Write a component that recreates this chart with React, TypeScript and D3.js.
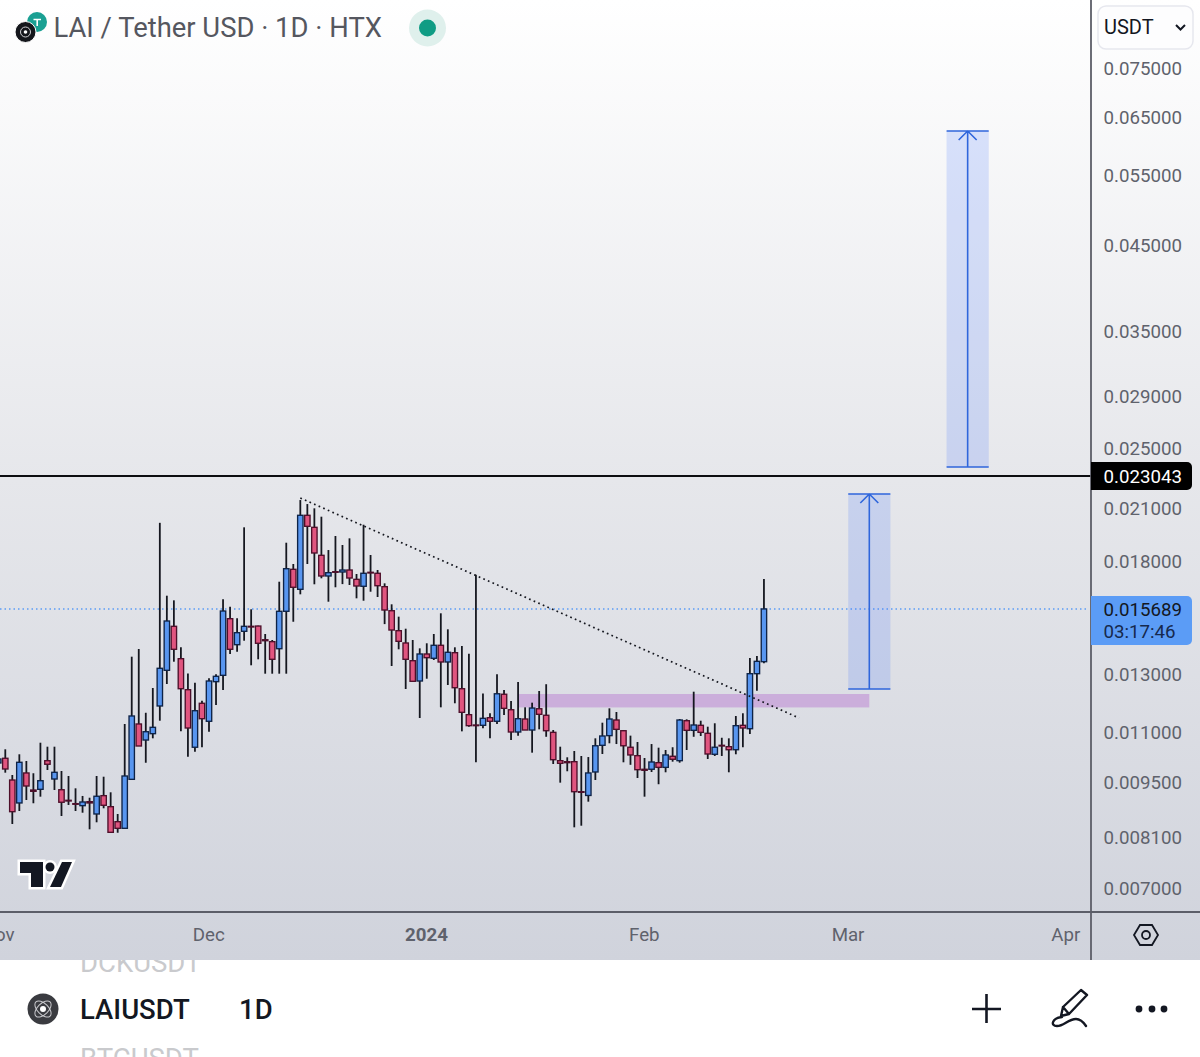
import { useEffect, useRef } from "react";
import * as d3 from "d3";

const WIDTH = 1200;
const HEIGHT = 1057;

// Daily candles from 1 Nov 2023, prices in millionths of a USDT
const firstDay = new Date(Date.UTC(2023, 10, 1));

const highs = [
  10374, 10455, 9706, 10305, 10107, 9755, 10656, 10534, 10534, 9819,
  9678, 9339, 9135, 9089, 9678, 9658, 9232, 8671, 11249, 13666,
  13973, 11620, 12483, 20127, 16302, 16085, 14042, 13022, 12675, 12032,
  12837, 12987, 16132, 15793, 15271, 19867, 15673, 14947, 14594, 14341,
  16975, 19002, 17867, 21497, 21250, 20989, 20487, 18604, 19374, 18876,
  19244, 17359, 20017, 18338, 17559, 16896, 15901, 15343, 14818, 14341,
  14000, 14206, 14594, 15493, 14792, 14042, 14096, 13785, 17324, 12290,
  11603, 12987, 12410, 12021, 12701, 11804, 11964, 12375, 12620, 11054,
  10534, 10216, 10403, 10255, 10223, 10792, 11291, 11770, 11646, 11054,
  10876, 10678, 10195, 10615, 10504, 10433, 10517, 11412, 11402, 12350,
  11356, 11161, 11272, 10810, 10792, 11511, 11603, 13614, 13694, 17108,
];
const opens = [
  10049, 10187, 9566, 8952, 9763, 9293, 9312, 10116, 9594, 9301,
  9021, 8934, 8882, 8985, 8671, 9143, 8856, 8480, 8319, 9585,
  11249, 10739, 10938, 11850, 13138, 14921, 13587, 12421, 10517, 11943,
  11337, 12713, 12949, 15253, 14148, 14707, 14921, 14933, 14353, 14273,
  13985, 15583, 17595, 16606, 20570, 19867, 18322, 17258, 17474, 17459,
  17559, 17092, 16752, 17444, 17394, 16733, 15609, 14733, 14218, 13508,
  12738, 13773, 13603, 14124, 13458, 13825, 12457, 11556, 11216, 11206,
  11456, 11337, 12259, 11722, 10991, 11412, 11054, 11756, 11536, 10980,
  10116, 10087, 10087, 9248, 9148, 9791, 10576, 10876, 11379, 11032,
  10517, 10264, 9868, 9868, 10058, 9923, 10246, 10116, 11356, 11044,
  11206, 10950, 10305, 10576, 10534, 10442, 11206, 11096, 13010, 13469,
];
const closes = [
  10166, 9876, 8729, 10069, 9402, 9259, 9547, 10012, 9782, 8970,
  9003, 8918, 8977, 8952, 9127, 8892, 8223, 8319, 9678, 11512,
  10555, 11000, 11141, 13215, 15152, 13961, 12457, 11119, 11689, 11422,
  12738, 12912, 15596, 13961, 14648, 14921, 14891, 14206, 14312, 13563,
  15583, 17626, 16704, 20570, 19925, 18445, 17258, 17424, 17444, 17559,
  17158, 16766, 17394, 17409, 16780, 15641, 14762, 14287, 13563, 12727,
  13773, 13626, 14124, 13458, 13841, 12493, 11635, 11194, 11194, 11435,
  11337, 12276, 11770, 10991, 11422, 11054, 11780, 11568, 11032, 10145,
  10040, 10058, 9248, 9232, 9763, 10562, 10865, 11412, 11076, 10562,
  10285, 9856, 9839, 10078, 9923, 10285, 10157, 11379, 11044, 11216,
  10980, 10314, 10517, 10555, 10442, 11194, 11119, 13010, 13484, 15689,
];
const lows = [
  9905, 9771, 8424, 8746, 9029, 8944, 9116, 9847, 9293, 8621,
  8900, 8746, 8703, 8295, 8465, 8815, 8223, 8213, 8319, 9566,
  10555, 10056, 10792, 11356, 12628, 13469, 11012, 10234, 10382, 10517,
  11000, 11884, 12410, 13773, 13864, 14312, 13330, 13563, 13010, 13010,
  13010, 13010, 15119, 16367, 17867, 16849, 17143, 16021, 16704, 16858,
  16815, 16179, 16067, 16491, 16240, 15016, 13303, 13961, 12446, 12727,
  11445, 12822, 13535, 11804, 12592, 11943, 11012, 11161, 10069, 11109,
  10792, 11249, 11545, 10739, 10876, 11054, 10353, 11076, 10840, 10020,
  9493, 9811, 8343, 8382, 8985, 9566, 10314, 10638, 10615, 10069,
  9996, 9622, 9116, 9791, 9450, 9782, 10087, 10058, 10433, 10840,
  10865, 10166, 10255, 10255, 9782, 10305, 10517, 10928, 12385, 13405,
];

const priceTicks = [0.075, 0.065, 0.055, 0.045, 0.035, 0.029, 0.025, 0.021, 0.018, 0.013, 0.011, 0.0095, 0.0081, 0.007];
const dateTicks = [
  new Date(Date.UTC(2023, 10, 1)),
  new Date(Date.UTC(2023, 11, 1)),
  new Date(Date.UTC(2024, 0, 1)),
  new Date(Date.UTC(2024, 1, 1)),
  new Date(Date.UTC(2024, 2, 1)),
  new Date(Date.UTC(2024, 3, 1)),
];
const dateLabels = ["Nov", "Dec", "2024", "Feb", "Mar", "Apr"];

const resistancePrice = 0.023043;
const lastPrice = 0.015689;
const countdown = "03:17:46";

// drawings on the chart
const lowerTarget = { from: new Date(Date.UTC(2024, 2, 1)), to: new Date(Date.UTC(2024, 2, 7)), mid: new Date(Date.UTC(2024, 2, 4)), top: 0.021874, bottom: 0.012445 };
const upperTarget = { from: new Date(Date.UTC(2024, 2, 15)), to: new Date(Date.UTC(2024, 2, 21)), mid: new Date(Date.UTC(2024, 2, 18)), top: 0.0625, bottom: 0.02365 };
const zone = { from: new Date(Date.UTC(2024, 0, 14)), to: new Date(Date.UTC(2024, 2, 4)), top: 0.012268, bottom: 0.0118 };
const trend = { from: new Date(Date.UTC(2023, 11, 14)), to: new Date(Date.UTC(2024, 1, 23)), start: 0.021622, end: 0.011446 };

const FONT = "Roboto, sans-serif";
const TEXT = "#131722";
const MUTED = "#5f626c";
const BLUE = "#5896f0";
const RED = "#e0557f";
const PLOT_RIGHT = 1091;
const AXIS_Y = 912;
const PANEL_BOTTOM = 960;
const AXIS_FONT = 18.7;

export default function App() {
  const svgRef = useRef<SVGSVGElement>(null);

  useEffect(() => {
    const svg = d3.select(svgRef.current!);
    svg.selectAll("*").remove();

    const x = d3.scaleUtc()
      .domain([new Date(Date.UTC(2023, 11, 1)), new Date(Date.UTC(2024, 3, 1))])
      .range([209, 1066]);
    const y = d3.scaleLog().domain([0.007, 0.075]).range([888, 68]);

    const defs = svg.append("defs");
    const grad = defs.append("linearGradient")
      .attr("id", "panelBg").attr("x1", 0).attr("x2", 0).attr("y1", 0).attr("y2", 1);
    grad.append("stop").attr("offset", "0%").attr("stop-color", "#ffffff");
    grad.append("stop").attr("offset", "50%").attr("stop-color", "#e6e7eb");
    grad.append("stop").attr("offset", "100%").attr("stop-color", "#d0d3dc");
    defs.append("clipPath").attr("id", "plotClip")
      .append("rect").attr("width", PLOT_RIGHT).attr("height", AXIS_Y);

    // ── Page behind the chart, with the list rows scrolling under it ──
    svg.append("rect").attr("width", WIDTH).attr("height", HEIGHT).attr("fill", "#ffffff");
    [{ t: "DCKUSDT", y: 972 }, { t: "BTCUSDT", y: 1068 }].forEach((r) => {
      svg.append("text").attr("x", 80).attr("y", r.y)
        .attr("font-family", FONT).attr("font-size", 27.5)
        .attr("fill", "#c9cacd").text(r.t);
    });
    svg.append("rect").attr("width", WIDTH).attr("height", PANEL_BOTTOM).attr("fill", "url(#panelBg)");

    const plot = svg.append("g").attr("clip-path", "url(#plotClip)");

    // ── Last price ────────────────────────────────────────────────
    plot.append("line")
      .attr("x1", 0).attr("x2", PLOT_RIGHT - 3).attr("y1", y(lastPrice)).attr("y2", y(lastPrice))
      .attr("stroke", "#5b9cf6").attr("stroke-width", 1.5).attr("stroke-dasharray", "1.5 3");

    // ── Purple zone ───────────────────────────────────────────────
    plot.append("rect")
      .attr("x", x(zone.from)).attr("width", x(zone.to) - x(zone.from))
      .attr("y", y(zone.top)).attr("height", y(zone.bottom) - y(zone.top))
      .attr("fill", "#cbaedb");

    // ── Candles ───────────────────────────────────────────────────
    const candles = highs.map((h, i) => ({
      date: d3.utcDay.offset(firstDay, i),
      high: h / 1e6, open: opens[i] / 1e6, close: closes[i] / 1e6, low: lows[i] / 1e6,
    }));
    const bodyW = 5.4;
    const g = plot.append("g");
    g.selectAll("line.wick").data(candles).join("line")
      .attr("class", "wick")
      .attr("x1", (d) => x(d.date)).attr("x2", (d) => x(d.date))
      .attr("y1", (d) => y(d.high)).attr("y2", (d) => y(d.low))
      .attr("stroke", "#15171f").attr("stroke-width", 1.8);
    g.selectAll("rect.body").data(candles).join("rect")
      .attr("class", "body")
      .attr("x", (d) => x(d.date) - bodyW / 2)
      .attr("width", bodyW)
      .attr("y", (d) => y(Math.max(d.open, d.close)))
      .attr("height", (d) => Math.abs(y(d.open) - y(d.close)))
      .attr("fill", (d) => (d.close >= d.open ? BLUE : RED))
      .attr("stroke", (d) => (d.close >= d.open ? "#0e2347" : "#4d0f2a"))
      .attr("stroke-width", 1.35);

    // ── Trend line ────────────────────────────────────────────────
    plot.append("line")
      .attr("x1", x(trend.from)).attr("x2", x(trend.to))
      .attr("y1", y(trend.start)).attr("y2", y(trend.end))
      .attr("stroke", "#15171f").attr("stroke-width", 1.7).attr("stroke-dasharray", "1.7 3.3");

    // ── Target arrows ─────────────────────────────────────────────
    [lowerTarget, upperTarget].forEach((a) => {
      const x0 = x(a.from), x1 = x(a.to), xm = x(a.mid), yt = y(a.top), yb = y(a.bottom);
      plot.append("rect").attr("x", x0).attr("width", x1 - x0).attr("y", yt).attr("height", yb - yt)
        .attr("fill", "#2962ff").attr("fill-opacity", 0.16);
      const path = d3.path();
      path.moveTo(x0, yt); path.lineTo(x1, yt);
      path.moveTo(x0, yb); path.lineTo(x1, yb);
      path.moveTo(xm, yt); path.lineTo(xm, yb);
      path.moveTo(xm - 9, yt + 9); path.lineTo(xm, yt); path.lineTo(xm + 9, yt + 9);
      plot.append("path").attr("d", path.toString()).attr("fill", "none")
        .attr("stroke", "#2f66dc").attr("stroke-width", 1.6);
    });

    plot.append("line")
      .attr("x1", 0).attr("x2", PLOT_RIGHT).attr("y1", y(resistancePrice)).attr("y2", y(resistancePrice))
      .attr("stroke", "#0c0d10").attr("stroke-width", 2);

    // ── TradingView mark ──────────────────────────────────────────
    const logo = svg.append("g").attr("fill", "#131722")
      .attr("stroke", "#ffffff").attr("stroke-width", 5).attr("paint-order", "stroke").attr("stroke-linejoin", "miter");
    logo.append("path").attr("d", "M20 862H43V887H31V873H20Z");
    logo.append("circle").attr("cx", 50).attr("cy", 867).attr("r", 4.5);
    logo.append("path").attr("d", "M62 862H72L61 887H50Z");

    // ── Axes ──────────────────────────────────────────────────────
    svg.append("line").attr("x1", 0).attr("x2", WIDTH).attr("y1", AXIS_Y).attr("y2", AXIS_Y)
      .attr("stroke", "#5c5e68").attr("stroke-width", 1.8);
    svg.append("line").attr("x1", PLOT_RIGHT).attr("x2", PLOT_RIGHT).attr("y1", 0).attr("y2", PANEL_BOTTOM)
      .attr("stroke", "#5c5e68").attr("stroke-width", 1.8);

    const yAxis = svg.append("g")
      .attr("transform", "translate(1103.5,0.4)")
      .call(d3.axisRight(y).tickValues(priceTicks).tickFormat(d3.format(".6f") as any).tickSize(0).tickPadding(0));
    yAxis.select(".domain").remove();
    yAxis.selectAll("text")
      .attr("font-family", FONT).attr("font-size", AXIS_FONT).attr("fill", MUTED);

    const xAxis = svg.append("g")
      .attr("transform", "translate(-0.7,928)")
      .call(d3.axisBottom(x).tickValues(dateTicks).tickFormat((_, i) => dateLabels[i]).tickSize(0).tickPadding(0));
    xAxis.select(".domain").remove();
    xAxis.selectAll("text")
      .attr("font-family", FONT).attr("font-size", AXIS_FONT).attr("fill", MUTED)
      .attr("font-weight", (_, i) => (i === 2 ? 700 : 400));

    // ── Price labels ──────────────────────────────────────────────
    svg.append("path").attr("d", "M1091 462H1187a5 5 0 0 1 5 5V485a5 5 0 0 1 -5 5H1091Z").attr("fill", "#000000");
    svg.append("text").attr("x", 1103.5).attr("y", y(resistancePrice) + 7.4)
      .attr("font-family", FONT).attr("font-size", AXIS_FONT).attr("fill", "#ffffff")
      .text(d3.format(".6f")(resistancePrice));
    svg.append("path").attr("d", "M1091 596H1187a5 5 0 0 1 5 5V640a5 5 0 0 1 -5 5H1091Z").attr("fill", "#5b9cf6");
    svg.append("text").attr("x", 1103.5).attr("y", y(lastPrice) + 7.4)
      .attr("font-family", FONT).attr("font-size", AXIS_FONT).attr("fill", TEXT)
      .text(d3.format(".6f")(lastPrice));
    svg.append("text").attr("x", 1103.5).attr("y", 638.4)
      .attr("font-family", FONT).attr("font-size", AXIS_FONT).attr("fill", "#16294d")
      .text(countdown);

    // ── Header ────────────────────────────────────────────────────
    svg.append("circle").attr("cx", 37).attr("cy", 22).attr("r", 10).attr("fill", "#1aa093");
    svg.append("path").attr("d", "M33.5 19.5H41M37.2 19.5V26").attr("stroke", "#ffffff").attr("stroke-width", 1.6).attr("fill", "none");
    svg.append("circle").attr("cx", 25.5).attr("cy", 32).attr("r", 10.5).attr("fill", "#15171c")
      .attr("stroke", "#ffffff").attr("stroke-width", 1);
    svg.append("circle").attr("cx", 25.5).attr("cy", 32).attr("r", 5).attr("fill", "none")
      .attr("stroke", "#d0d0d4").attr("stroke-width", 1);
    svg.append("circle").attr("cx", 25.5).attr("cy", 32).attr("r", 1.8).attr("fill", "#ffffff");
    svg.append("text").attr("x", 53.5).attr("y", 37)
      .attr("font-family", FONT).attr("font-size", 27.4).attr("fill", "#55575f")
      .text("LAI / Tether USD · 1D · HTX");
    svg.append("circle").attr("cx", 427.5).attr("cy", 28).attr("r", 18.5).attr("fill", "#dff0ec");
    svg.append("circle").attr("cx", 427.5).attr("cy", 28).attr("r", 8.5).attr("fill", "#0f9c84");

    // ── Currency selector ─────────────────────────────────────────
    svg.append("rect").attr("x", 1098).attr("y", 6).attr("width", 95).attr("height", 43).attr("rx", 8)
      .attr("fill", "#fdfdfe").attr("stroke", "#e6e7ee").attr("stroke-width", 1.5);
    svg.append("text").attr("x", 1104).attr("y", 34)
      .attr("font-family", FONT).attr("font-size", 20).attr("fill", TEXT).text("USDT");
    svg.append("path").attr("d", "M1176 25L1180.5 29.5L1185 25").attr("fill", "none")
      .attr("stroke", TEXT).attr("stroke-width", 2);

    // settings hexagon on the axis corner
    svg.append("path").attr("d", "M1134 935L1140 925H1152L1158 935L1152 945H1140Z").attr("fill", "none")
      .attr("stroke", TEXT).attr("stroke-width", 1.8);
    svg.append("circle").attr("cx", 1146).attr("cy", 935).attr("r", 4).attr("fill", "none")
      .attr("stroke", TEXT).attr("stroke-width", 1.8);

    // ── Bottom toolbar ────────────────────────────────────────────
    svg.append("circle").attr("cx", 43).attr("cy", 1009).attr("r", 15.5).attr("fill", "#3a3b40");
    svg.append("ellipse").attr("cx", 43).attr("cy", 1009).attr("rx", 10).attr("ry", 5.5)
      .attr("transform", "rotate(45 43 1009)").attr("fill", "none").attr("stroke", "#c8c8cc").attr("stroke-width", 1);
    svg.append("ellipse").attr("cx", 43).attr("cy", 1009).attr("rx", 10).attr("ry", 5.5)
      .attr("transform", "rotate(-45 43 1009)").attr("fill", "none").attr("stroke", "#c8c8cc").attr("stroke-width", 1);
    svg.append("circle").attr("cx", 43).attr("cy", 1009).attr("r", 3).attr("fill", "#ffffff");
    svg.append("text").attr("x", 80).attr("y", 1019)
      .attr("font-family", FONT).attr("font-size", 27.5).attr("font-weight", 500).attr("fill", TEXT).text("LAIUSDT");
    svg.append("text").attr("x", 239).attr("y", 1019)
      .attr("font-family", FONT).attr("font-size", 27.5).attr("font-weight", 500).attr("fill", TEXT).text("1D");
    svg.append("path").attr("d", "M972 1009H1001M986.5 994V1023").attr("stroke", TEXT).attr("stroke-width", 2.6);
    svg.append("path")
      .attr("d", "M1061 1016L1063 1007L1081 990L1087 995L1069 1014ZM1063 1007L1069 1014M1062 1017C1052 1018 1050 1026 1057 1026C1064 1026 1068 1019 1076 1019C1081 1019 1084 1023 1086 1026")
      .attr("fill", "none").attr("stroke", TEXT).attr("stroke-width", 2.4).attr("stroke-linejoin", "round").attr("stroke-linecap", "round");
    [1139, 1152, 1164].forEach((cx) => {
      svg.append("circle").attr("cx", cx).attr("cy", 1009).attr("r", 3.4).attr("fill", TEXT);
    });
  }, []);

  return (
    <svg
      ref={svgRef}
      width={WIDTH}
      height={HEIGHT}
      style={{ position: "absolute", left: 0, top: 0, display: "block" }}
    />
  );
}
